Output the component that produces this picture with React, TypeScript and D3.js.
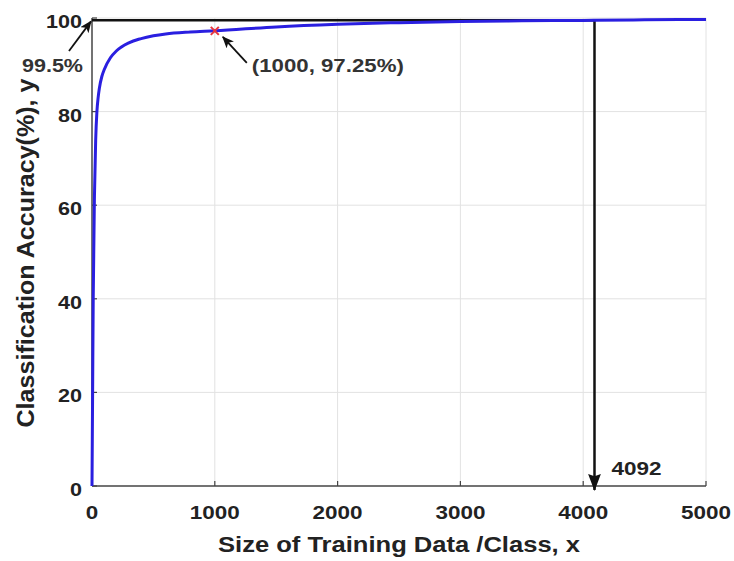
import * as d3 from 'd3';

// training data size per class vs accuracy (%)
const sizes = [0, 5, 10, 20, 30, 40, 50, 60, 80, 100, 150, 200, 300, 400, 500, 600, 800, 1000, 1500, 2000, 2500, 3000, 3500, 4000, 4092, 4500, 5000];
const accuracy = [0, 20, 40, 62, 74, 80, 83, 85, 87.5, 89, 91.5, 93, 94.7, 95.6, 96.2, 96.6, 97.0, 97.25, 98.1, 98.65, 99.0, 99.25, 99.4, 99.48, 99.5, 99.6, 99.7];
const xTicks = [0, 1000, 2000, 3000, 4000, 5000];
const yTicks = [0, 20, 40, 60, 80, 100];
const marked = { x: 1000, y: 97.25 };
const threshold = { x: 4092, y: 99.5 };

const W = 734;
const H = 561;
const m = { left: 92, right: 28, top: 18, bottom: 75 };

export default function App() {
  const x = d3.scaleLinear().domain([0, 5000]).range([m.left, W - m.right]);
  const y = d3.scaleLinear().domain([0, 100]).range([H - m.bottom, m.top]);

  const line = d3.line<number>()
    .x((_, i) => x(sizes[i]))
    .y(d => y(d))
    .curve(d3.curveMonotoneX);

  const font = 'Arial, "Liberation Sans", sans-serif';
  const mx = x(marked.x), my = y(marked.y);
  const tx = x(threshold.x), ty = y(threshold.y);
  // stretched bold text, like the source image
  const txt = (s: string, w: number) => ({ children: s, textLength: w, lengthAdjust: 'spacingAndGlyphs' as const });

  return (
    <svg width={W} height={H} style={{ position: 'absolute', left: 0, top: 0, background: '#fff' }}>
      <defs>
        <marker id="ah" viewBox="0 0 12 10" refX="11" refY="5" markerWidth="12" markerHeight="10" markerUnits="userSpaceOnUse" orient="auto">
          <path d="M0,0 L12,5 L0,10 L3,5 z" fill="#111" />
        </marker>
        <marker id="ahBig" viewBox="0 0 16 12" refX="15" refY="6" markerWidth="17" markerHeight="13" markerUnits="userSpaceOnUse" orient="auto">
          <path d="M0,0 L16,6 L0,12 L2,6 z" fill="#111" />
        </marker>
      </defs>

      {/* grid */}
      {xTicks.slice(1).map(t => (
        <line key={'gx' + t} x1={x(t)} x2={x(t)} y1={y(0)} y2={y(100)} stroke="#e2e2e2" strokeWidth={1} />
      ))}
      {yTicks.slice(1).map(t => (
        <line key={'gy' + t} x1={x(0)} x2={x(5000)} y1={y(t)} y2={y(t)} stroke="#e2e2e2" strokeWidth={1} />
      ))}

      {/* axes */}
      <line x1={x(0)} x2={x(5000)} y1={y(0)} y2={y(0)} stroke="#444" strokeWidth={1.5} />
      <line x1={x(0)} x2={x(0)} y1={y(0)} y2={y(100)} stroke="#444" strokeWidth={1.5} />
      {xTicks.map(t => (
        <g key={'xt' + t}>
          <line x1={x(t)} x2={x(t)} y1={y(0)} y2={y(0) - 5} stroke="#444" strokeWidth={1.2} />
          <text x={x(t)} y={y(0) + 33} textAnchor="middle" fontFamily={font} fontWeight="bold" fontSize={19} fill="#222"
            {...txt(String(t), String(t).length * 12.5)} />
        </g>
      ))}
      {yTicks.map(t => (
        <g key={'yt' + t}>
          <line x1={x(0)} x2={x(0) + 5} y1={y(t)} y2={y(t)} stroke="#444" strokeWidth={1.2} />
          <text x={x(0) - 10} y={y(t) + 10} textAnchor="end" fontFamily={font} fontWeight="bold" fontSize={19} fill="#222"
            {...txt(String(t), String(t).length * 12)} />
        </g>
      ))}

      {/* threshold annotation line */}
      <line x1={x(0)} x2={tx} y1={ty} y2={ty} stroke="#111" strokeWidth={2.5} />
      <line x1={tx} x2={tx} y1={ty} y2={y(0) + 4} stroke="#111" strokeWidth={2.5} markerEnd="url(#ahBig)" />
      <text x={tx + 17} y={y(0) - 11} fontFamily={font} fontWeight="bold" fontSize={19} fill="#222" {...txt(String(threshold.x), 50)} />

      {/* curve */}
      <path d={line(accuracy) ?? ''} fill="none" stroke="#2a1fe0" strokeWidth={3} />

      {/* marked point */}
      <path d={`M${mx - 4},${my - 4}L${mx + 4},${my + 4}M${mx - 4},${my + 4}L${mx + 4},${my - 4}`} stroke="#e8343c" strokeWidth={2} />
      <line x1={mx + 32} y1={my + 32} x2={mx + 8} y2={my + 6} stroke="#111" strokeWidth={1.8} markerEnd="url(#ah)" />
      <text x={mx + 37} y={my + 41} fontFamily={font} fontWeight="bold" fontSize={19} fill="#333"
        {...txt(`(${marked.x}, ${marked.y}%)`, 152)} />

      {/* 99.5% label */}
      <line x1={69} y1={51} x2={x(0) - 1} y2={ty + 1} stroke="#111" strokeWidth={1.8} markerEnd="url(#ah)" />
      <text x={22} y={72} fontFamily={font} fontWeight="bold" fontSize={19} fill="#333" {...txt(`${threshold.y}%`, 61)} />

      {/* axis titles */}
      <text x={(x(0) + x(5000)) / 2} y={552} textAnchor="middle" fontFamily={font} fontWeight="bold" fontSize={22} fill="#222"
        {...txt('Size of Training Data /Class, x', 362)} />
      <text transform={`translate(34,${(y(0) + y(100)) / 2 + 1}) rotate(-90)`} textAnchor="middle" fontFamily={font} fontWeight="bold" fontSize={24} fill="#222"
        {...txt('Classification Accuracy(%), y', 349)} />
    </svg>
  );
}
